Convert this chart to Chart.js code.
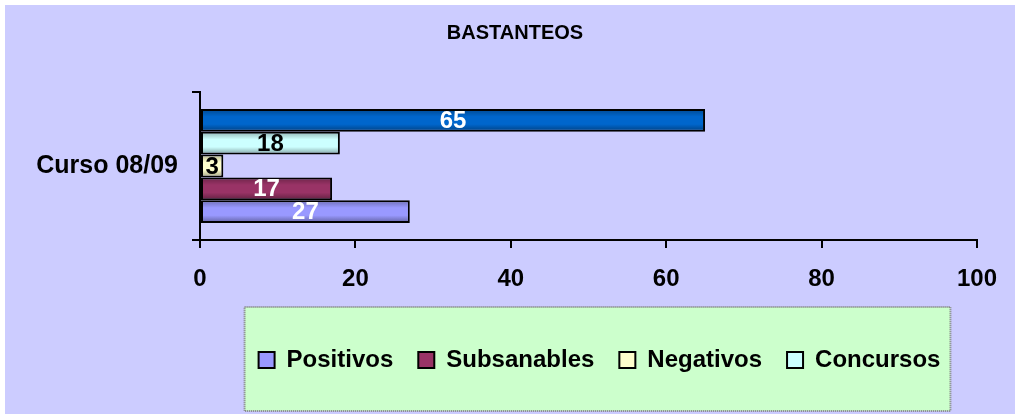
<!DOCTYPE html>
<html>
<head>
<meta charset="utf-8">
<script src="https://cdn.jsdelivr.net/npm/chart.js@4.4.0/dist/chart.umd.min.js"></script>
<style>
  html, body { margin: 0; padding: 0; background: #ffffff; }
</style>
</head>
<body>
<canvas id="chart" width="1015" height="414"></canvas>
<script>
// data
const categories = ['Curso 08/09'];
const positivos = [27];
const subsanables = [17];
const negativos = [3];
const concursos = [18];
const total = [65];
const xMin = 0;
const xMax = 100;
const xStep = 20;

const FONT = '"Liberation Sans", Arial, sans-serif';

// bars drawn top -> bottom, so the first series of the legend goes last
const datasets = [
  { label: 'Total', data: total, backgroundColor: '#0066CC', labelColor: '#ffffff' },
  { label: 'Concursos', data: concursos, backgroundColor: '#CCFFFF', labelColor: '#000000' },
  { label: 'Negativos', data: negativos, backgroundColor: '#FFFFCC', labelColor: '#000000' },
  { label: 'Subsanables', data: subsanables, backgroundColor: '#993366', labelColor: '#ffffff' },
  { label: 'Positivos', data: positivos, backgroundColor: '#9999FF', labelColor: '#ffffff' }
];
datasets.forEach(ds => {
  ds.borderColor = '#000000';
  ds.borderWidth = 2;
  ds.borderSkipped = false;
  ds.categoryPercentage = 0.77;
  ds.barPercentage = 1.0;
});

// lavender plot background and green legend box
const backdrop = {
  id: 'backdrop',
  beforeDraw(chart) {
    const ctx = chart.ctx;
    ctx.save();
    ctx.fillStyle = '#CCCCFF';
    ctx.fillRect(5, 5, chart.width - 5, chart.height - 5);

    const boxes = chart.legend.legendHitBoxes;
    if (boxes && boxes.length) {
      const left = Math.min(...boxes.map(b => b.left)) - 14;
      const right = Math.max(...boxes.map(b => b.left + b.width)) + 10;
      const top = boxes[0].top - 41;
      const bottom = boxes[0].top + boxes[0].height + 39;
      ctx.fillStyle = '#CCFFCC';
      ctx.fillRect(left, top, right - left, bottom - top);
      ctx.strokeStyle = '#808080';
      ctx.lineWidth = 2;
      ctx.setLineDash([1, 1]);
      ctx.strokeRect(left, top, right - left, bottom - top);
    }
    ctx.restore();
  }
};

// move legend and title a bit to the right, like in the original
const blockShift = {
  id: 'blockShift',
  afterLayout(chart) {
    chart.legend.left += 11;
    chart.legend.right += 11;
    chart.titleBlock.left += 24;
    chart.titleBlock.right += 24;
  }
};

// soft shading on bars + value labels
const valueLabels = {
  id: 'valueLabels',
  afterDatasetsDraw(chart) {
    const ctx = chart.ctx;
    ctx.save();
    chart.data.datasets.forEach((ds, i) => {
      const meta = chart.getDatasetMeta(i);
      meta.data.forEach((bar, j) => {
        const p = bar.getProps(['x', 'y', 'base', 'height'], true);
        const top = p.y - p.height / 2 + 2;
        const h = p.height - 4;
        const g = ctx.createLinearGradient(0, top, 0, top + h);
        g.addColorStop(0, 'rgba(0,0,0,0.22)');
        g.addColorStop(0.3, 'rgba(0,0,0,0)');
        g.addColorStop(0.7, 'rgba(0,0,0,0)');
        g.addColorStop(1, 'rgba(0,0,0,0.28)');
        ctx.fillStyle = g;
        ctx.fillRect(p.base + 1, top, p.x - p.base - 3, h);

        ctx.font = 'bold 24px ' + FONT;
        ctx.textAlign = 'center';
        ctx.textBaseline = 'middle';
        ctx.fillStyle = ds.labelColor;
        ctx.fillText(ds.data[j], (p.x + p.base) / 2, p.y + 1);
      });
    });
    ctx.restore();
  }
};

new Chart(document.getElementById('chart'), {
  type: 'bar',
  data: { labels: categories, datasets: datasets },
  plugins: [backdrop, blockShift, valueLabels],
  options: {
    indexAxis: 'y',
    responsive: false,
    animation: false,
    layout: { padding: { left: 5, top: 5, right: 38, bottom: 32 } },
    scales: {
      x: {
        min: xMin,
        max: xMax,
        ticks: {
          stepSize: xStep,
          color: '#000000',
          padding: 17,
          font: { family: FONT, size: 24, weight: 'bold' }
        },
        grid: { drawOnChartArea: false, color: '#000000', lineWidth: 2, tickLength: 8 },
        border: { color: '#000000', width: 2 },
        afterFit(scale) { scale.height = 83; }
      },
      y: {
        ticks: {
          color: '#000000',
          padding: 14,
          font: { family: FONT, size: 25, weight: 'bold' }
        },
        grid: { drawOnChartArea: false, color: '#000000', lineWidth: 2, tickLength: 8 },
        border: { color: '#000000', width: 2 },
        afterFit(scale) { scale.width = 195; }
      }
    },
    plugins: {
      title: {
        display: true,
        text: 'BASTANTEOS',
        color: '#000000',
        font: { family: FONT, size: 20, weight: 'bold' },
        padding: { top: 16, bottom: 47 }
      },
      legend: {
        position: 'bottom',
        fullSize: false,
        reverse: true,
        labels: {
          filter: item => item.text !== 'Total',
          color: '#000000',
          boxWidth: 16,
          boxHeight: 16,
          padding: 25,
          font: { family: FONT, size: 24, weight: 'bold' }
        }
      },
      tooltip: { enabled: false }
    }
  }
});
</script>
</body>
</html>
